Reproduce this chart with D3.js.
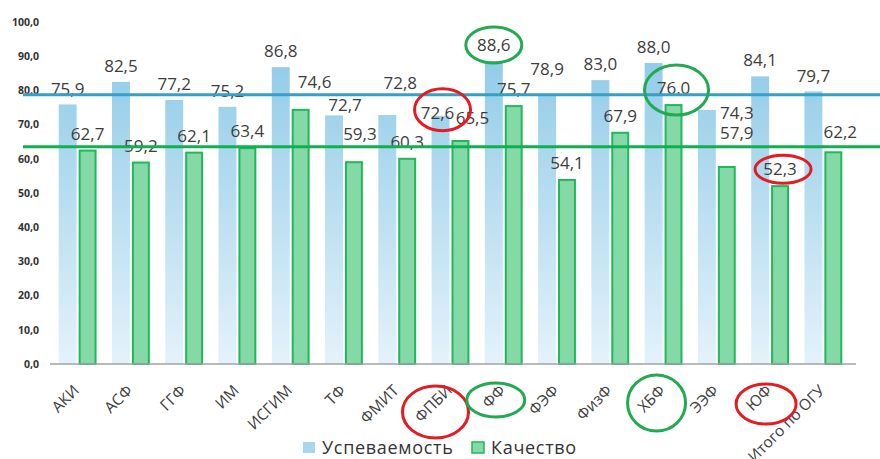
<!DOCTYPE html>
<html>
<head>
<meta charset="utf-8">
<script src="https://cdn.jsdelivr.net/npm/d3@7/dist/d3.min.js"></script>
<style>
body { margin: 0; background: #fff; }
text { font-family: "Open Sans", sans-serif; fill: #3d3d3d; }
</style>
</head>
<body>
<div id="chart"></div>
<script>
var categories = ["АКИ", "АСФ", "ГГФ", "ИМ", "ИСГИМ", "ТФ", "ФМИТ", "ФПБИ", "ФФ", "ФЭФ", "ФизФ", "ХБФ", "ЭЭФ", "ЮФ", "Итого по ОГУ"];
var uspev = [75.9, 82.5, 77.2, 75.2, 86.8, 72.7, 72.8, 72.6, 88.6, 78.9, 83.0, 88.0, 74.3, 84.1, 79.7];
var kach = [62.7, 59.2, 62.1, 63.4, 74.6, 59.3, 60.3, 65.5, 75.7, 54.1, 67.9, 76.0, 57.9, 52.3, 62.2];
var yTicks = [0, 10, 20, 30, 40, 50, 60, 70, 80, 90, 100];
var seriesNames = ["Успеваемость", "Качество"];
var lineUspev = 78.7;
var lineKach = 63.5;

var width = 880, height = 459;
var cfg = {
    left: 51, right: 850, bottom: 364, top: 22,
    labelGap: 16
};

// hand-moved data labels (dx, dy from the normal spot)
var labelNudge = {
    "ТФ": { u: [11, 6], k: [6, -11] },
    "ИСГИМ": { k: [14, -11] },
    "ФМИТ": { u: [13, -16] },
    "ФПБИ": { u: [-3, 13], k: [12, -6] },
    "ФЭФ": { u: [0, -9] },
    "ЭЭФ": { u: [30, 19], k: [10, -17] },
    "Итого по ОГУ": { k: [7, -3] }
};

// hand-drawn circles
var red = "#e31b23", green = "#22aa50";
var circles = [
    { cat: "ФПБИ", on: "u", color: red, dx: 5, dy: -3, rx: 28, ry: 21 },
    { cat: "ФФ", on: "u", color: green, dx: 0, dy: 0, rx: 28, ry: 18 },
    { cat: "ХБФ", on: "k", color: green, dx: 3, dy: 2, rx: 32, ry: 25 },
    { cat: "ЮФ", on: "k", color: red, dx: 3, dy: 0, rx: 28, ry: 14 },
    { cat: "ФПБИ", on: "axis", color: red, dx: -15, dy: 48, rx: 33, ry: 26 },
    { cat: "ФФ", on: "axis", color: green, dx: -8, dy: 36, rx: 29, ry: 17 },
    { cat: "ХБФ", on: "axis", color: green, dx: -7, dy: 39, rx: 29, ry: 28 },
    { cat: "ЮФ", on: "axis", color: red, dx: -4, dy: 40, rx: 30, ry: 20 }
];

var svg = d3.select("#chart").append("svg")
    .attr("width", width)
    .attr("height", height);

var defs = svg.append("defs");
var grad = defs.append("linearGradient")
    .attr("id", "blueGrad")
    .attr("gradientUnits", "userSpaceOnUse")
    .attr("x1", 0).attr("x2", 0)
    .attr("y1", cfg.top).attr("y2", cfg.bottom);
grad.append("stop").attr("offset", "0%").attr("stop-color", "#88c7e6");
grad.append("stop").attr("offset", "100%").attr("stop-color", "#e4f2fa");

var x0 = d3.scaleBand()
    .domain(categories)
    .range([cfg.left, cfg.right])
    .paddingInner(0.29)
    .paddingOuter(0.145);
var x1 = d3.scaleBand()
    .domain(["u", "k"])
    .range([0, x0.bandwidth()])
    .paddingInner(0.1);
var y = d3.scaleLinear()
    .domain([0, 100])
    .range([cfg.bottom, cfg.top]);

var fmt = function(d, cat, key) {
    var s = d3.format(".1f")(d);
    // the ХБФ quality label was typed with a point
    return (cat == "ХБФ" && key == "k") ? s : s.replace(".", ",");
};

var rows = categories.map(function(c, i) {
    return { cat: c, u: uspev[i], k: kach[i] };
});

function barX(d, key) {
    return x0(d.cat) + x1(key);
}
function labelPos(d, key) {
    var n = (labelNudge[d.cat] && labelNudge[d.cat][key]) || [0, 0];
    return {
        x: barX(d, key) + x1.bandwidth() / 2 + n[0],
        y: y(d[key]) - cfg.labelGap + n[1]
    };
}

// bars
svg.append("g").selectAll("rect")
    .data(rows)
    .enter().append("rect")
    .attr("x", function(d) { return barX(d, "u"); })
    .attr("y", function(d) { return y(d.u); })
    .attr("width", x1.bandwidth())
    .attr("height", function(d) { return y(0) - y(d.u); })
    .style("fill", "url(#blueGrad)");

svg.append("g").selectAll("rect")
    .data(rows)
    .enter().append("rect")
    .attr("x", function(d) { return barX(d, "k") + 1; })
    .attr("y", function(d) { return y(d.k) + 1; })
    .attr("width", x1.bandwidth() - 2)
    .attr("height", function(d) { return y(0) - y(d.k) - 1; })
    .style("fill", "#84d9a6")
    .style("stroke", "#1db95a")
    .style("stroke-width", 2);

// value labels
["u", "k"].forEach(function(key) {
    svg.append("g").selectAll("text")
        .data(rows)
        .enter().append("text")
        .attr("x", function(d) { return labelPos(d, key).x; })
        .attr("y", function(d) { return labelPos(d, key).y; })
        .attr("dy", "0.36em")
        .attr("text-anchor", "middle")
        .style("font-size", "17px")
        .text(function(d) { return fmt(d[key], d.cat, key); });
});

// x axis
var xAxis = d3.axisBottom(x0).tickSize(0).tickSizeOuter(0);
var xAxisElem = svg.append("g")
    .attr("transform", "translate(0," + cfg.bottom + ")")
    .call(xAxis);
xAxisElem.select(".domain")
    .attr("d", "M" + (cfg.left - 1) + ",0H" + (cfg.right + 6))
    .style("stroke", "#a3a3a3")
    .style("stroke-width", 1.5);
xAxisElem.selectAll("text")
    .attr("x", 0).attr("y", 0).attr("dy", 0)
    .attr("transform", "translate(2.5,27.5) rotate(-45)")
    .attr("text-anchor", "end")
    .style("font-size", "15.5px")
    .style("font-family", "'Open Sans', sans-serif")
    .style("fill", "#404040");

// y axis
var yAxis = d3.axisLeft(y)
    .tickValues(yTicks)
    .tickSize(0)
    .tickPadding(0)
    .tickFormat(function(d) { return d3.format(".1f")(d).replace(".", ","); });
var yAxisElem = svg.append("g")
    .attr("transform", "translate(39,0)")
    .call(yAxis);
yAxisElem.select(".domain").remove();
yAxisElem.selectAll("text")
    .style("font-size", "10.5px")
    .style("font-weight", "bold")
    .style("font-family", "'Open Sans', sans-serif")
    .style("fill", "#333");

// reference lines
svg.append("line")
    .attr("x1", 23).attr("x2", width)
    .attr("y1", y(lineUspev)).attr("y2", y(lineUspev))
    .style("stroke", "#33a0c6")
    .style("stroke-width", 3);
svg.append("line")
    .attr("x1", 23).attr("x2", width)
    .attr("y1", y(lineKach)).attr("y2", y(lineKach))
    .style("stroke", "#0fb04e")
    .style("stroke-width", 3);

// circles
svg.append("g").selectAll("ellipse")
    .data(circles)
    .enter().append("ellipse")
    .attr("cx", function(c) {
        var d = rows[categories.indexOf(c.cat)];
        if (c.on == "axis") return x0(c.cat) + x0.bandwidth() / 2 + c.dx;
        return labelPos(d, c.on).x + c.dx;
    })
    .attr("cy", function(c) {
        var d = rows[categories.indexOf(c.cat)];
        if (c.on == "axis") return cfg.bottom + c.dy;
        return labelPos(d, c.on).y + c.dy;
    })
    .attr("rx", function(c) { return c.rx; })
    .attr("ry", function(c) { return c.ry; })
    .style("fill", "none")
    .style("stroke", function(c) { return c.color; })
    .style("stroke-width", 3);

// legend
var legend = svg.append("g").attr("transform", "translate(303,442)");
var legendX = [0, 169];
seriesNames.forEach(function(name, i) {
    var g = legend.append("g").attr("transform", "translate(" + legendX[i] + ",0)");
    g.append("rect")
        .attr("width", 12).attr("height", 11)
        .style("fill", i == 0 ? "#a9d5ee" : "#84d9a6")
        .style("stroke", i == 0 ? "none" : "#1db95a")
        .style("stroke-width", 1.5);
    g.append("text")
        .attr("x", 19).attr("y", 6)
        .attr("dy", "0.36em")
        .style("font-size", "18px")
        .style("letter-spacing", "0.7px")
        .style("fill", "#333")
        .text(name);
});
</script>
</body>
</html>
